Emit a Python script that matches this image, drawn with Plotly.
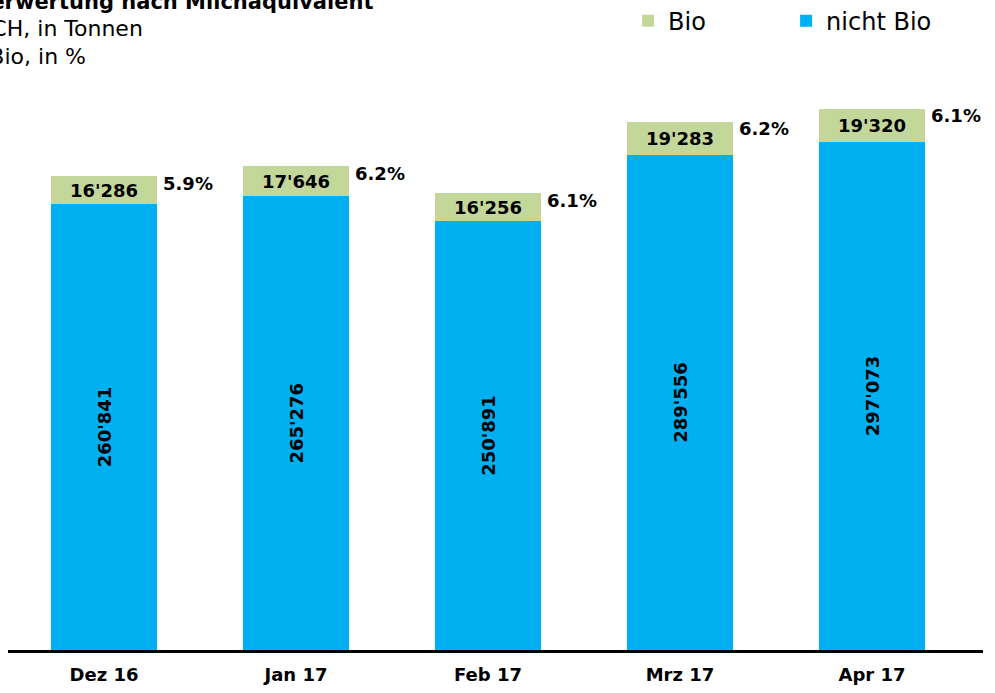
import plotly.graph_objects as go

# Monthly milk utilisation in milk-equivalent tonnes
months = ["Dez 16", "Jan 17", "Feb 17", "Mrz 17", "Apr 17"]
nicht_bio = [260841, 265276, 250891, 289556, 297073]
bio = [16286, 17646, 16256, 19283, 19320]

BLUE = "#00B0F0"
GREEN = "#C4D79B"
FONT = "DejaVu Sans, Liberation Sans, Arial, sans-serif"

totals = [a + b for a, b in zip(nicht_bio, bio)]
bio_share = [b / t * 100 for b, t in zip(bio, totals)]

fig = go.Figure()

fig.add_trace(go.Bar(
    name="nicht Bio",
    x=months,
    y=nicht_bio,
    marker=dict(color=BLUE, line=dict(width=0)),
    texttemplate="%{y:,}",
    textposition="inside",
    insidetextanchor="middle",
    textangle=-90,
    constraintext="none",
    textfont=dict(family=FONT, size=18, color="black", weight="bold"),
    hoverinfo="skip",
))

fig.add_trace(go.Bar(
    name="Bio",
    x=months,
    y=bio,
    marker=dict(color=GREEN, line=dict(width=0)),
    texttemplate="%{y:,}",
    textposition="inside",
    insidetextanchor="middle",
    textangle=0,
    constraintext="none",
    textfont=dict(family=FONT, size=18, color="black", weight="bold"),
    hoverinfo="skip",
))

# Bio share labels beside the top of each stack
for m, t, s in zip(months, totals, bio_share):
    fig.add_annotation(
        x=m, y=t, xref="x", yref="y",
        text=f"<b>{s:.1f}%</b>",
        showarrow=False,
        xanchor="left", yanchor="middle",
        xshift=57, yshift=-7,
        font=dict(family=FONT, size=18, color="black"),
    )

# Header lines (left-aligned block running past the left edge)
header = [
    ("<b>Milchverwertung nach Milchäquivalent</b>", 0.3764, 1.157, 21),
    ("Total CH, in Tonnen", 0.1405, 1.109, 22),
    ("Anteil Bio, in %", 0.082, 1.0607, 22),
]
for txt, x, y, size in header:
    fig.add_annotation(
        x=x, y=y, xref="paper", yref="paper",
        text=txt, showarrow=False,
        xanchor="right", yanchor="middle",
        font=dict(family=FONT, size=size, color="black"),
    )

fig.update_layout(
    width=995,
    height=693,
    margin=dict(l=8, r=12, t=90, b=43, autoexpand=False),
    paper_bgcolor="white",
    plot_bgcolor="white",
    barmode="stack",
    bargap=0.446,
    separators=".'",
    font=dict(family=FONT, color="black"),
    legend=dict(
        orientation="h",
        traceorder="reversed",
        x=0.636, y=1.123,
        xanchor="left", yanchor="middle",
        font=dict(family=FONT, size=24, color="black"),
        entrywidth=113,
        entrywidthmode="pixels",
        bgcolor="rgba(0,0,0,0)",
    ),
    xaxis=dict(
        showline=True,
        linecolor="black",
        linewidth=3,
        ticks="",
        ticklabelstandoff=6,
        tickfont=dict(family=FONT, size=18, color="black", weight="bold"),
        showgrid=False,
        zeroline=False,
        fixedrange=True,
        automargin=False,
    ),
    yaxis=dict(
        range=[0, 327500],
        visible=False,
        showgrid=False,
        zeroline=False,
        fixedrange=True,
        automargin=False,
    ),
)

fig.write_html("out.html")
